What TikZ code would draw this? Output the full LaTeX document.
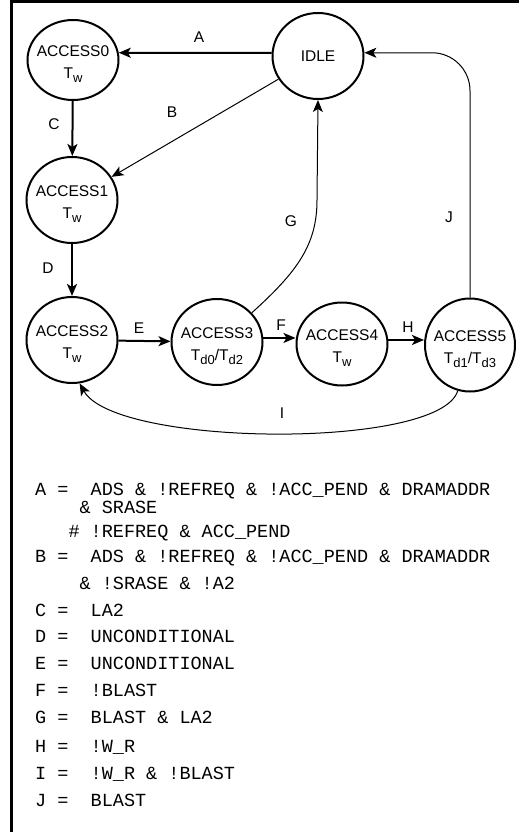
\documentclass[tikz,border=0pt]{standalone}
\usepackage{fontspec}
\setmainfont{Liberation Sans}
\newfontfamily\eqfont{Liberation Mono}
\usetikzlibrary{shapes.geometric,arrows.meta}
\newcommand\subx[1]{\raisebox{-4pt}{\fontsize{13}{14}\selectfont #1}}
\newcommand\twoline[2]{\smash{\makebox[0pt]{\raisebox{-7pt}{\begin{tabular}{@{}c@{}}#1\\#2\end{tabular}}}}}
\newcommand\oneline[1]{\smash{\makebox[0pt]{\raisebox{-5.5pt}{#1}}}}
\tikzset{
  stateshape/.style={draw, line width=2pt, ellipse, minimum width=91pt, minimum height=86pt, inner sep=0pt,
    font=\fontsize{15.5}{22}\selectfont},
  thickarrow/.style={line width=2pt, -{Stealth[length=12pt,width=10pt,inset=3pt]}},
  thinarrow/.style={line width=1pt, -{Stealth[length=12pt,width=10pt,inset=3pt]}},
  lab/.style={inner sep=0pt, font=\fontsize{15.5}{18}\selectfont},
  eq/.style={anchor=base west, inner sep=0pt, font=\eqfont\fontsize{18.5}{20}\selectfont},
}
\begin{document}
\begin{tikzpicture}[x=1pt,y=-1pt]
\useasboundingbox (0,0) rectangle (519,832);
\draw[line width=2.4pt, line join=miter] (11.3,832) -- (11.3,1.5) -- (519,1.5);

\node[stateshape] (idle) at (318,56) {\oneline{IDLE}};
\node[stateshape, minimum height=80pt] (a0) at (73,60) {\twoline{ACCESS0}{T\subx{w}}};
\node[stateshape] (a1) at (72,200) {\twoline{ACCESS1}{T\subx{w}}};
\node[stateshape] (a2) at (72,340) {\twoline{ACCESS2}{T\subx{w}}};
\node[stateshape] (a3) at (217,342) {\twoline{ACCESS3}{T\subx{d0}/T\subx{d2}}};
\node[stateshape, minimum height=83pt] (a4) at (342,344) {\twoline{ACCESS4}{T\subx{w}}};
\node[stateshape, minimum width=90pt, minimum height=93pt] (a5) at (470,345) {\twoline{ACCESS5}{T\subx{d1}/T\subx{d3}}};

\draw[thickarrow] (idle.176) -- (a0.9);
\draw[thinarrow] (idle) -- (a1);
\draw[thickarrow] (a0) -- (a1);
\draw[thickarrow] (a1) -- (a2);
\draw[thickarrow] (a2) -- (a3);
\draw[thickarrow] (a3.5) -- (a4.west |- a3.5);
\draw[thickarrow] (a4.5) -- (a5.west |- a4.5);
\coordinate (g1) at (317,200);
\draw[thinarrow] (a3.40) .. controls (297,272) and (317,245) .. (g1) -- (idle.south);
\draw[thinarrow, rounded corners=38pt] (a5.north) |- (idle.4);
\draw[thinarrow] (a5.255) .. controls (440,450) and (115,447) .. (a2.280);

\node[lab] (lA) at (199,37) {A};
\node[lab] (lB) at (172,112) {B};
\node[lab] (lC) at (54,124) {C};
\node[lab] (lD) at (48,268) {D};
\node[lab] (lE) at (139,328) {E};
\node[lab] (lF) at (281,325) {F};
\node[lab] (lG) at (291,221) {G};
\node[lab] (lH) at (408,327) {H};
\node[lab] (lI) at (282,413) {I};
\node[lab] (lJ) at (449,217) {J};

\node[eq] (eA) at (35,495) {A =~~ADS \& !REFREQ \& !ACC\_PEND \& DRAMADDR};
\node[eq] (eA2) at (79.4,513) {\& SRASE};
\node[eq] (eA3) at (68.3,537) {\# !REFREQ \& ACC\_PEND};
\node[eq] (eB) at (35,562) {B =~~ADS \& !REFREQ \& !ACC\_PEND \& DRAMADDR};
\node[eq] (eB2) at (79.4,589) {\& !SRASE \& !A2};
\node[eq] (eC) at (35,616) {C =~~LA2};
\node[eq] (eD) at (35,642) {D =~~UNCONDITIONAL};
\node[eq] (eE) at (35,669) {E =~~UNCONDITIONAL};
\node[eq] (eF) at (35,696) {F =~~!BLAST};
\node[eq] (eG) at (35,723) {G =~~BLAST \& LA2};
\node[eq] (eH) at (35,752) {H =~~!W\_R};
\node[eq] (eI) at (35,779) {I =~~!W\_R \& !BLAST};
\node[eq] (eJ) at (35,806) {J =~~BLAST};
\end{tikzpicture}
\end{document}
